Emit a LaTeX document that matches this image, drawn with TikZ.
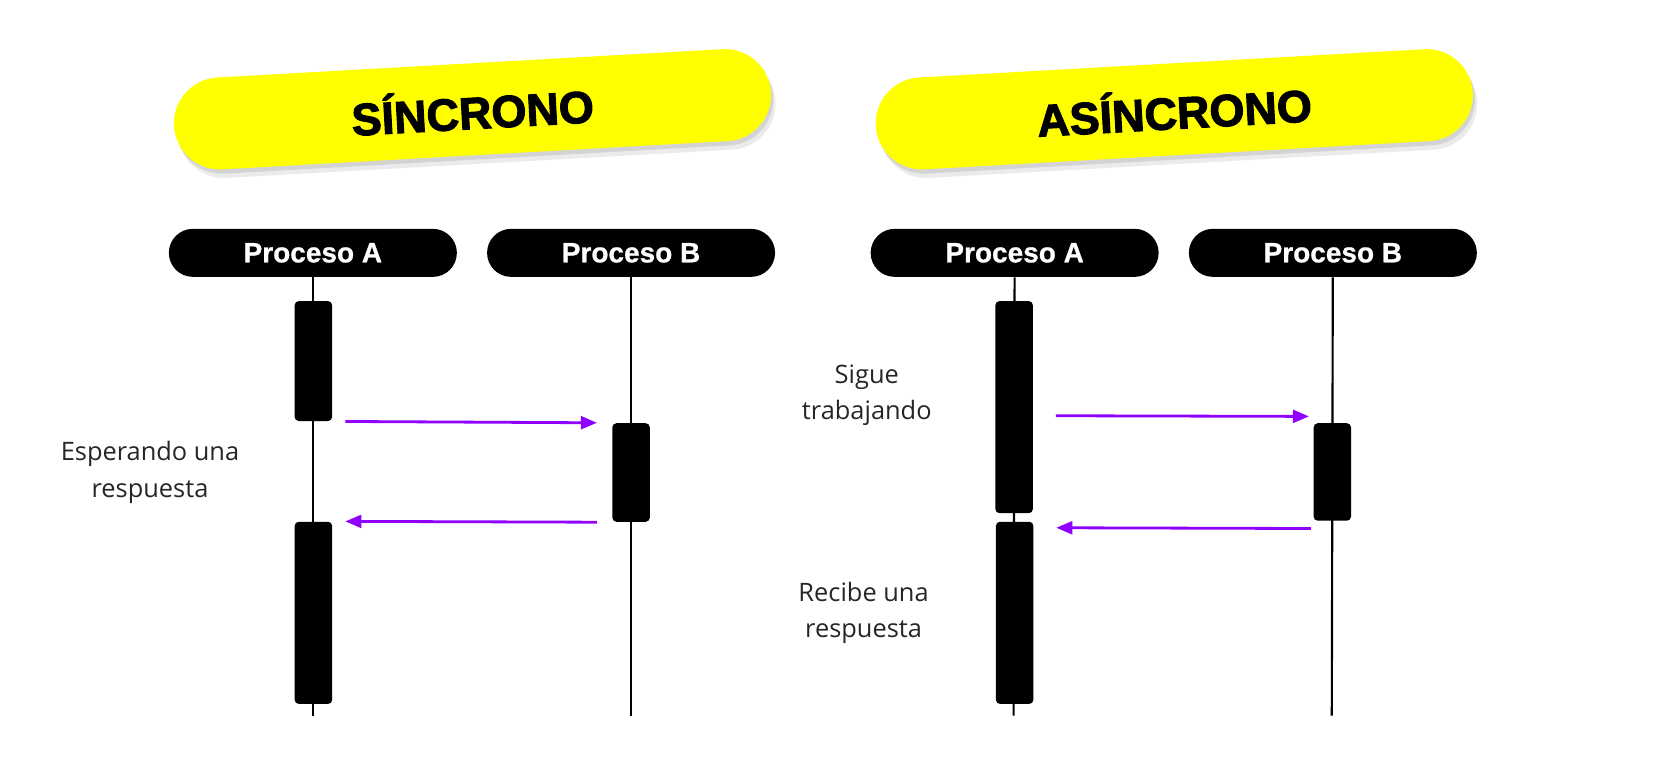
\documentclass[tikz,border=0pt]{standalone}
\usepackage{fontspec}
\setmainfont{Open Sans}
\newfontfamily\headfont{Liberation Sans}[BoldFeatures={FakeBold=0.8}]
\newfontfamily\titlefont{Liberation Sans}[BoldFeatures={FakeBold=2.5}]
\usetikzlibrary{arrows.meta,positioning}
\definecolor{msgpurple}{HTML}{8F00FF}
\definecolor{banneryellow}{HTML}{FFFF00}
\tikzset{
banner/.style={rectangle,rounded corners=23pt,minimum width=299pt,minimum height=46pt,rotate=3.2,inner sep=0pt,font=\titlefont\bfseries\fontsize{22.5}{22.5}\selectfont},
pill/.style={rectangle,rounded corners=12pt,fill=black,text=white,minimum width=144pt,minimum height=24pt,inner sep=0pt,font=\headfont\bfseries\fontsize{14}{14}\selectfont},
act/.style={rectangle,rounded corners=2.1pt,fill=black,minimum width=18.75pt,inner sep=0pt},
life/.style={line width=1.07pt},
msg/.style={draw=msgpurple,line width=1.4pt,-{Triangle[length=8pt,width=6.4pt]}},
note/.style={align=center,text=black!85,font=\fontsize{12.7}{18.2}\selectfont}
}

\begin{document}
\begin{tikzpicture}[x=0.5357pt,y=-0.5357pt]
	\useasboundingbox (0,0) rectangle (1568,716);
	% titles
	\foreach \cx/\name/\txt in {441/sync/SÍNCRONO,1096/async/ASÍNCRONO}{
		\node[banner,fill=black,opacity=0.08] at (\cx+4,110) {};
		\node[banner,fill=black,opacity=0.10] at (\cx+2,106) {};
		\node[banner,fill=banneryellow] (title\name) at (\cx,102) {\txt};
	}

	% processes
	\node[pill] (pA1) at (292,236) {Proceso A};
	\node[pill] (pB1) at (589,236) {Proceso B};
	\node[pill] (pA2) at (947,236) {Proceso A};
	\node[pill] (pB2) at (1244,236) {Proceso B};

	% lifelines
	\coordinate (eA1) at (292,668);
	\coordinate (eB1) at (589,668);
	\coordinate (eA2) at (946,668);
	\coordinate (eB2) at (1243,668);
	\foreach \p in {A1,B1,A2,B2}{ \draw[life] (p\p) -- (e\p);}

	% activations
	\node[act,minimum height=60pt] (a1) at (292.5,337) {};
	\node[act,minimum height=49.3pt] (b1) at (589,441) {};
	\node[act,minimum height=91.1pt] (a2) at (292.5,572) {};
	\node[act,minimum height=106.1pt] (a3) at (946.5,380) {};
	\node[act,minimum height=48.75pt] (b2) at (1243.5,440.5) {};
	\node[act,minimum height=91.1pt] (a4) at (947,572) {};

	% messages
	\draw[msg] ([xshift=6.4pt]a1.south east) -- ([xshift=-7.5pt]b1.north west);
	\draw[msg] ([xshift=-7.5pt]b1.south west) -- ([xshift=6.4pt]a2.north east);
	\draw[msg] ([shift={(11.25pt,-4.3pt)}]a3.east) -- ([shift={(-2.1pt,3.2pt)}]b2.north west);
	\draw[msg] ([shift={(-1.1pt,-3.7pt)}]b2.south west) -- ([shift={(11.25pt,-3.2pt)}]a4.north east);

	% notes
	\node[note] (wait) at (140,441) {Esperando una\\respuesta};
	\node[note] (work) at (809,369) {Sigue\\trabajando};
	\node[note] (recv) at (806,572) {Recibe una\\respuesta};
\end{tikzpicture}
\end{document}
